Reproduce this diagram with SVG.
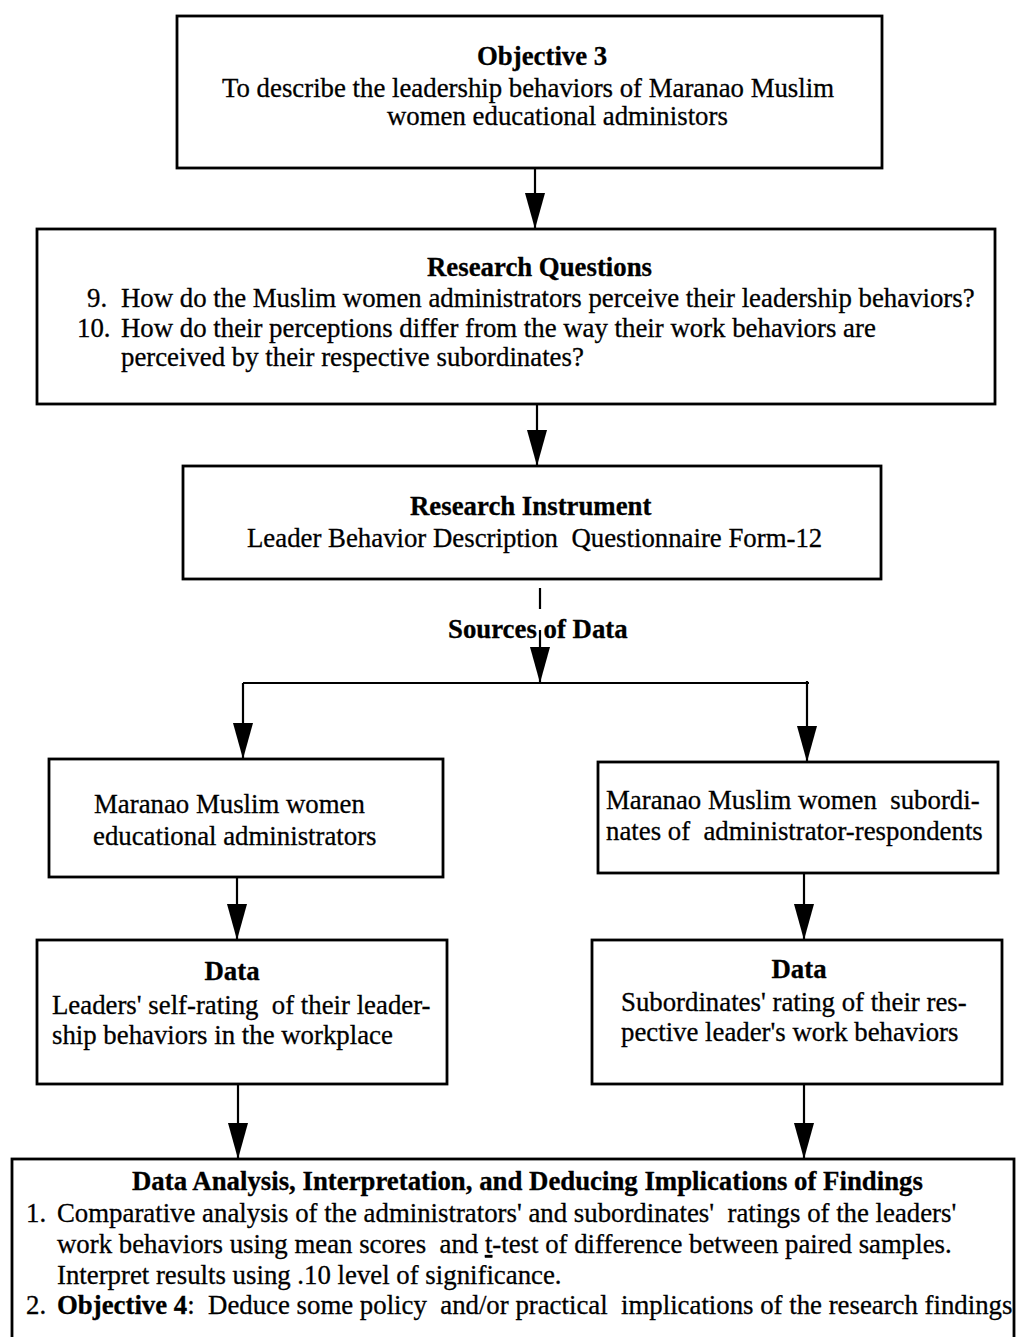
<svg xmlns="http://www.w3.org/2000/svg" width="1016" height="1337" viewBox="0 0 1016 1337">
<style>
  .box { fill: #fff; stroke: #000; stroke-width: 2.8; }
  .t { font-family: "Liberation Serif", "Times New Roman", serif; font-size: 26.8px; fill: #000; stroke: #000; stroke-width: 0.3; }
  .b { font-weight: bold; }
  .c { text-anchor: middle; }
  .ln { stroke: #000; stroke-width: 2.2; fill: none; }
  .u { text-decoration: underline; }
</style>
<defs>
  <marker id="ah" viewBox="0 0 36 20" markerWidth="36" markerHeight="20" refX="36" refY="10" orient="auto" markerUnits="userSpaceOnUse">
    <path d="M0,0 L36,10 L0,20 Z" fill="#000"/>
  </marker>
</defs>
<rect width="1016" height="1337" fill="#fff"/>

<g id="connectors">
  <line class="ln" x1="535" y1="168" x2="535" y2="229" marker-end="url(#ah)"/>
  <line class="ln" x1="537" y1="404" x2="537" y2="466" marker-end="url(#ah)"/>
  <line class="ln" x1="540" y1="588" x2="540" y2="609"/>
  <line class="ln" x1="540" y1="630" x2="540" y2="683" marker-end="url(#ah)"/>
  <line class="ln" x1="243" y1="683" x2="809" y2="683"/>
  <line class="ln" x1="243" y1="683" x2="243" y2="759" marker-end="url(#ah)"/>
  <line class="ln" x1="807" y1="681" x2="807" y2="762" marker-end="url(#ah)"/>
  <line class="ln" x1="237" y1="877" x2="237" y2="940" marker-end="url(#ah)"/>
  <line class="ln" x1="804" y1="873" x2="804" y2="940" marker-end="url(#ah)"/>
  <line class="ln" x1="238" y1="1084" x2="238" y2="1159" marker-end="url(#ah)"/>
  <line class="ln" x1="804" y1="1084" x2="804" y2="1159" marker-end="url(#ah)"/>
</g>

<g id="objective3">
  <rect class="box" x="177" y="16" width="705" height="152"/>
  <text class="t b" x="477" y="65">Objective 3</text>
  <text class="t" x="222" y="97">To describe the leadership behaviors of Maranao Muslim</text>
  <text class="t" x="387" y="125">women educational administors</text>
</g>

<g id="research-questions">
  <rect class="box" x="37" y="229" width="958" height="175"/>
  <text class="t b" x="427" y="276">Research Questions</text>
  <text class="t" x="87" y="307">9.</text>
  <text class="t" x="121" y="307">How do the Muslim women administrators perceive their leadership behaviors?</text>
  <text class="t" x="77" y="337">10.</text>
  <text class="t" x="121" y="337">How do their perceptions differ from the way their work behaviors are</text>
  <text class="t" x="121" y="366">perceived by their respective subordinates?</text>
</g>

<g id="research-instrument">
  <rect class="box" x="183" y="466" width="698" height="113"/>
  <text class="t b" x="410" y="515">Research Instrument</text>
  <text class="t" x="247" y="547" xml:space="preserve">Leader Behavior Description  Questionnaire Form-12</text>
</g>

<g id="sources-of-data">
  <text class="t b" x="448" y="638">Sources of Data</text>
</g>

<g id="administrators">
  <rect class="box" x="49" y="759" width="394" height="118"/>
  <text class="t" x="94" y="813">Maranao Muslim women</text>
  <text class="t" x="93" y="845">educational administrators</text>
</g>

<g id="subordinates">
  <rect class="box" x="598" y="762" width="400" height="111"/>
  <text class="t" x="606" y="809" xml:space="preserve">Maranao Muslim women  subordi-</text>
  <text class="t" x="606" y="840" xml:space="preserve">nates of  administrator-respondents</text>
</g>

<g id="data-leaders">
  <rect class="box" x="37" y="940" width="410" height="144"/>
  <text class="t b c" x="232" y="980">Data</text>
  <text class="t" x="52" y="1014" xml:space="preserve">Leaders' self-rating  of their leader-</text>
  <text class="t" x="52" y="1044">ship behaviors in the workplace</text>
</g>

<g id="data-subordinates">
  <rect class="box" x="592" y="940" width="410" height="144"/>
  <text class="t b c" x="799" y="978">Data</text>
  <text class="t" x="621" y="1011">Subordinates' rating of their res-</text>
  <text class="t" x="621" y="1041">pective leader's work behaviors</text>
</g>

<g id="analysis">
  <rect class="box" x="12" y="1159" width="1002" height="190"/>
  <text class="t b" x="132" y="1190">Data Analysis, Interpretation, and Deducing Implications of Findings</text>
  <text class="t" x="26" y="1222">1.</text>
  <text class="t" x="57" y="1222" xml:space="preserve">Comparative analysis of the administrators' and subordinates'  ratings of the leaders'</text>
  <text class="t" x="57" y="1253" xml:space="preserve">work behaviors using mean scores  and <tspan class="u">t</tspan>-test of difference between paired samples.</text>
  <text class="t" x="57" y="1284">Interpret results using .10 level of significance.</text>
  <text class="t" x="26" y="1314">2.</text>
  <text class="t" x="57" y="1314" xml:space="preserve"><tspan class="b">Objective 4</tspan>:  Deduce some policy  and/or practical  implications of the research findings</text>
</g>
</svg>
